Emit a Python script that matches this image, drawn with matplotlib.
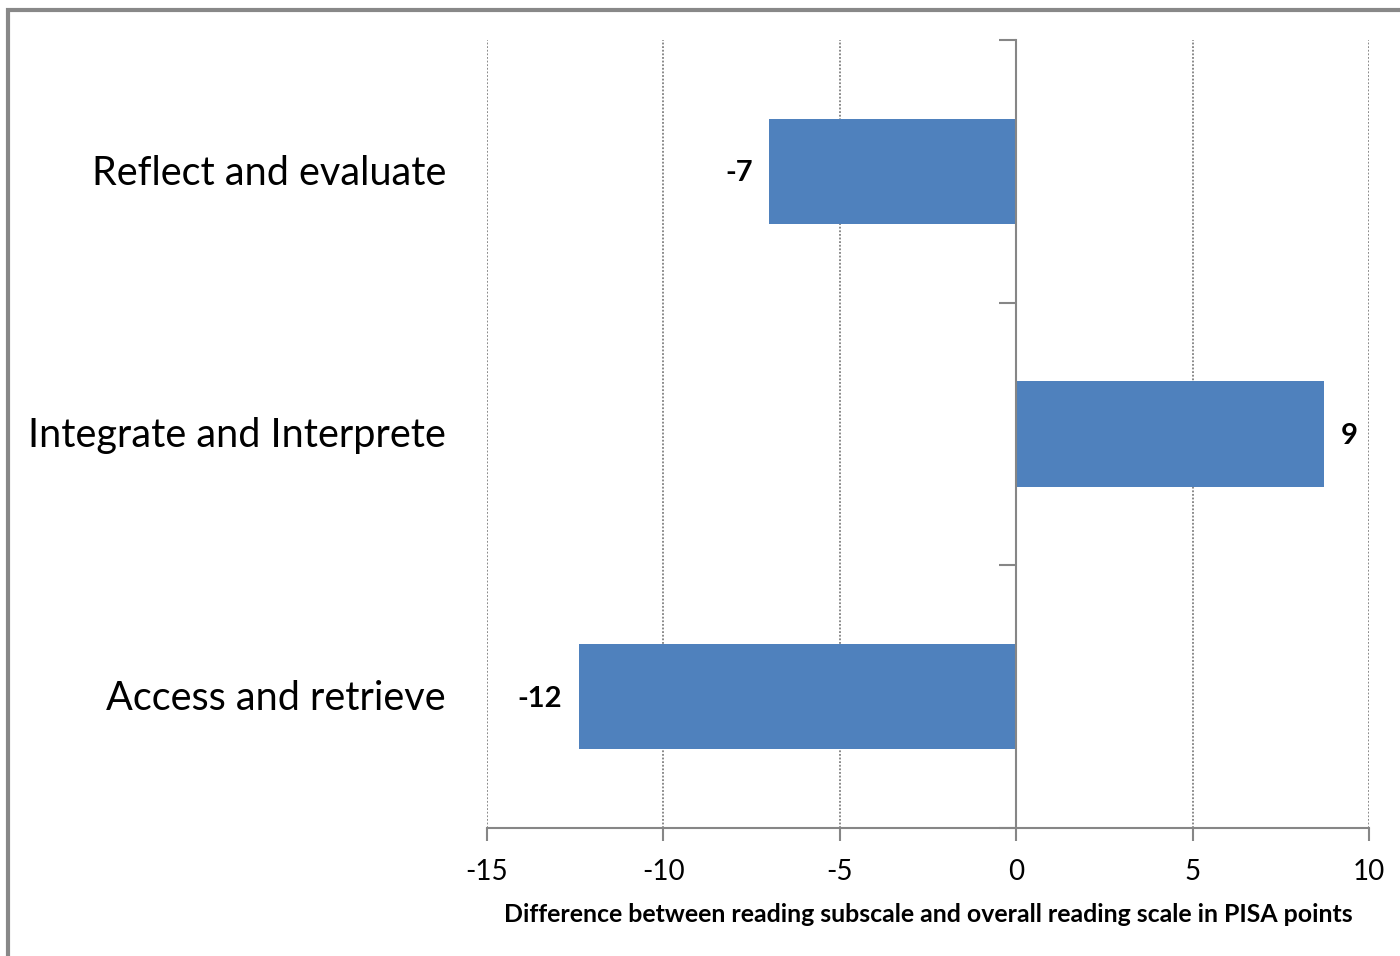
import matplotlib
matplotlib.use("Agg")
import matplotlib.pyplot as plt
import matplotlib.transforms as mtransforms
from matplotlib.patches import Rectangle

categories = ["Access and retrieve", "Integrate and Interprete", "Reflect and evaluate"]
values = [-12.39, 8.73, -7.0]
xticks = [-15, -10, -5, 0, 5, 10]
xlabel = "Difference between reading subscale and overall reading scale in PISA points"

plt.rcParams['font.family'] = ['Lato', 'DejaVu Sans']

fig = plt.figure(figsize=(14, 9.56), dpi=100)
ax = fig.add_axes([487/1400, 1-828/956, (1369-487)/1400, (828-40)/956])

bar_color = "#4F81BD"
axis_gray = "#868686"

ypos = list(range(len(categories)))
ax.barh(ypos, values, height=0.4, color=bar_color, zorder=3)

ax.set_xlim(-15, 10)
ax.set_ylim(-0.5, len(categories) - 0.5)
ax.set_xticks(xticks)
ax.set_xticklabels([str(t) for t in xticks], fontsize=20)
ax.tick_params(axis='x', length=9, width=1.5, color=axis_gray, pad=13, direction='out')

# gridlines
for t in xticks:
    if t != 0:
        ax.axvline(t, color="#808080", linestyle=(0, (1, 1.0)), linewidth=1.3, zorder=1)

for s in ['top', 'right']:
    ax.spines[s].set_visible(False)
ax.spines['bottom'].set_color(axis_gray)
ax.spines['bottom'].set_linewidth(1.5)
ax.spines['left'].set_position(('data', 0))
ax.spines['left'].set_color(axis_gray)
ax.spines['left'].set_linewidth(1.5)
ax.spines['left'].set_zorder(4)

boundaries = [i - 0.5 for i in range(len(categories) + 1)]
ax.set_yticks(boundaries)
ax.set_yticklabels([])
ax.tick_params(axis='y', length=12, width=1.5, color=axis_gray, direction='out')

# category labels
trans = mtransforms.blended_transform_factory(ax.transAxes, ax.transData)
offset = mtransforms.ScaledTranslation(-41/100, -2/100, fig.dpi_scale_trans)
for y, c in zip(ypos, categories):
    ax.text(0, y, c, transform=trans + offset, ha='right', va='center', fontsize=28.5)

# value labels
for y, v in zip(ypos, values):
    lab = f"{round(v):d}"
    if v < 0:
        ax.annotate(lab, (v, y), xytext=(-12, -1.5), textcoords='offset points',
                    ha='right', va='center', fontsize=21, fontweight='bold')
    else:
        ax.annotate(lab, (v, y), xytext=(12, -1.5), textcoords='offset points',
                    ha='left', va='center', fontsize=21, fontweight='bold')

ax.set_xlabel(xlabel, fontsize=17.9, fontweight='bold', labelpad=13)

# outer border
fig.patches.append(Rectangle((8/1400, -0.05), 1.1, 1 - 10/956 + 0.05, transform=fig.transFigure,
                             fill=False, edgecolor="#888888", linewidth=3, zorder=0))

fig.savefig("out.png", dpi=100)
